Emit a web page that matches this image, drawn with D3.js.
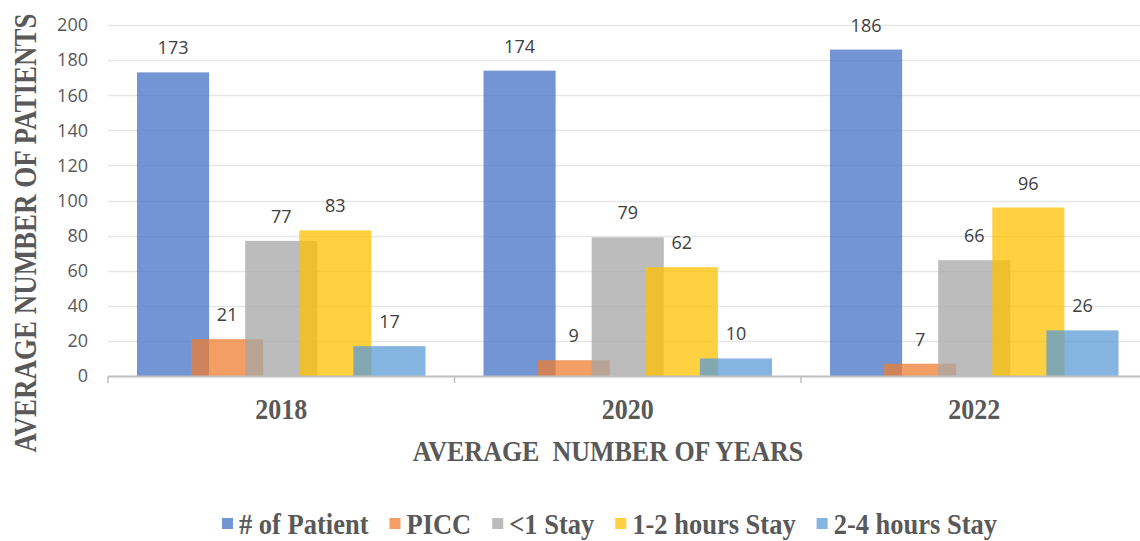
<!DOCTYPE html>
<html>
<head>
<meta charset="utf-8">
<script src="https://cdn.jsdelivr.net/npm/d3@7"></script>
<style>
  html, body { margin: 0; padding: 0; background: #ffffff; }
  svg { display: block; }
</style>
</head>
<body>
<svg id="chart" width="1140" height="541"></svg>
<script>
// Chart data
const years = ["2018", "2020", "2022"];
const seriesNames = ["# of Patient", "PICC", "<1 Stay", "1-2 hours Stay", "2-4 hours Stay"];
const patients = [173, 174, 186];
const picc = [21, 9, 7];
const stayUnder1 = [77, 79, 66];
const stay1to2 = [83, 62, 96];
const stay2to4 = [17, 10, 26];
const yTicks = [0, 20, 40, 60, 80, 100, 120, 140, 160, 180, 200];
const seriesColors = ["#4472C4", "#ED7D31", "#A5A5A5", "#FFC000", "#5B9BD5"];

const seriesValues = [patients, picc, stayUnder1, stay1to2, stay2to4];

const svg = d3.select("#chart");
const W = 1140, H = 541;
const plot = { left: 108, right: 1147.5, top: 25, bottom: 376 };

const x = d3.scaleBand().domain(years).range([plot.left, plot.right]).paddingInner(0).paddingOuter(0);
const y = d3.scaleLinear().domain([0, 200]).range([plot.bottom, plot.top]);

// Bars overlap by 25% of their width inside each year group
const overlap = 0.25;
const groupPad = 29;
const span = x.bandwidth() - 2 * groupPad;
const barW = span / (1 + (seriesNames.length - 1) * (1 - overlap));
const inner = d3.scaleBand()
  .domain(seriesNames)
  .range([groupPad, groupPad + barW * (1 - overlap) * seriesNames.length])
  .padding(0);

const sansFont = "'Open Sans', 'Noto Sans', sans-serif";
const serifFont = "'Liberation Serif', 'Times New Roman', serif";
const serifStretch = 1.15; // tall, narrow look of the bold serif labels

// Bold serif label placed with its baseline at (tx, ty)
function serifLabel(parent, tx, ty, str, size, anchor, rotate) {
  const rot = rotate ? ` rotate(${rotate})` : "";
  return parent.append("text")
    .attr("transform", `translate(${tx},${ty})${rot} scale(1,${serifStretch})`)
    .attr("text-anchor", anchor)
    .attr("font-family", serifFont)
    .attr("font-weight", "bold")
    .attr("font-size", size)
    .attr("fill", "#595959")
    .attr("xml:space", "preserve")
    .style("white-space", "pre")
    .text(str);
}

// Horizontal gridlines
svg.append("g")
  .selectAll("line")
  .data(yTicks.filter(t => t > 0))
  .join("line")
  .attr("x1", plot.left)
  .attr("x2", W)
  .attr("y1", d => Math.round(y(d)) + 0.5)
  .attr("y2", d => Math.round(y(d)) + 0.5)
  .attr("stroke", "#e6e6e6")
  .attr("stroke-width", 1.5);

// Y axis tick labels
svg.append("g")
  .selectAll("text")
  .data(yTicks)
  .join("text")
  .attr("x", 88)
  .attr("y", d => y(d))
  .attr("dy", "0.35em")
  .attr("text-anchor", "end")
  .attr("font-family", sansFont)
  .attr("font-size", 18)
  .attr("fill", "#595959")
  .text(d => d);

// Bars, later series drawn on top with partial transparency
const barData = [];
seriesNames.forEach((name, si) => {
  years.forEach((yr, yi) => {
    barData.push({ name, si, yr, value: seriesValues[si][yi] });
  });
});

svg.append("g")
  .selectAll("rect")
  .data(barData)
  .join("rect")
  .attr("x", d => x(d.yr) + inner(d.name))
  .attr("y", d => y(d.value))
  .attr("width", barW)
  .attr("height", d => y(0) - y(d.value))
  .attr("fill", d => seriesColors[d.si])
  .attr("fill-opacity", 0.75);

// Value labels
svg.append("g")
  .selectAll("text")
  .data(barData)
  .join("text")
  .attr("x", d => x(d.yr) + inner(d.name) + barW / 2)
  .attr("y", d => y(d.value) - 18)
  .attr("text-anchor", "middle")
  .attr("font-family", sansFont)
  .attr("font-size", 18)
  .attr("fill", "#404040")
  .text(d => d.value);

// X axis line and category boundary ticks
svg.append("line")
  .attr("x1", plot.left)
  .attr("x2", W)
  .attr("y1", plot.bottom + 0.5)
  .attr("y2", plot.bottom + 0.5)
  .attr("stroke", "#bfbfbf")
  .attr("stroke-width", 2);

svg.append("g")
  .selectAll("line")
  .data(years)
  .join("line")
  .attr("x1", d => x(d))
  .attr("x2", d => x(d))
  .attr("y1", plot.bottom)
  .attr("y2", plot.bottom + 7)
  .attr("stroke", "#bfbfbf")
  .attr("stroke-width", 1.5);

// X axis category labels
const xLabels = svg.append("g");
years.forEach(yr => serifLabel(xLabels, x(yr) + x.bandwidth() / 2, 419, yr, 26, "middle"));

// Axis titles
serifLabel(svg, 608, 461, "AVERAGE  NUMBER OF YEARS", 26, "middle");
serifLabel(svg, 36, 233, "AVERAGE NUMBER OF PATIENTS", 27, "middle", -90);

// Legend
const legend = svg.append("g");
let lx = 222;
const ly = 534;
seriesNames.forEach((name, i) => {
  const g = legend.append("g");
  g.append("rect")
    .attr("x", lx)
    .attr("y", ly - 16)
    .attr("width", 11)
    .attr("height", 11)
    .attr("fill", seriesColors[i])
    .attr("fill-opacity", 0.75);
  const t = serifLabel(g, lx + 17, ly, name, 26.5, "start");
  lx = lx + 17 + t.node().getComputedTextLength() + 21;
});
</script>
</body>
</html>
